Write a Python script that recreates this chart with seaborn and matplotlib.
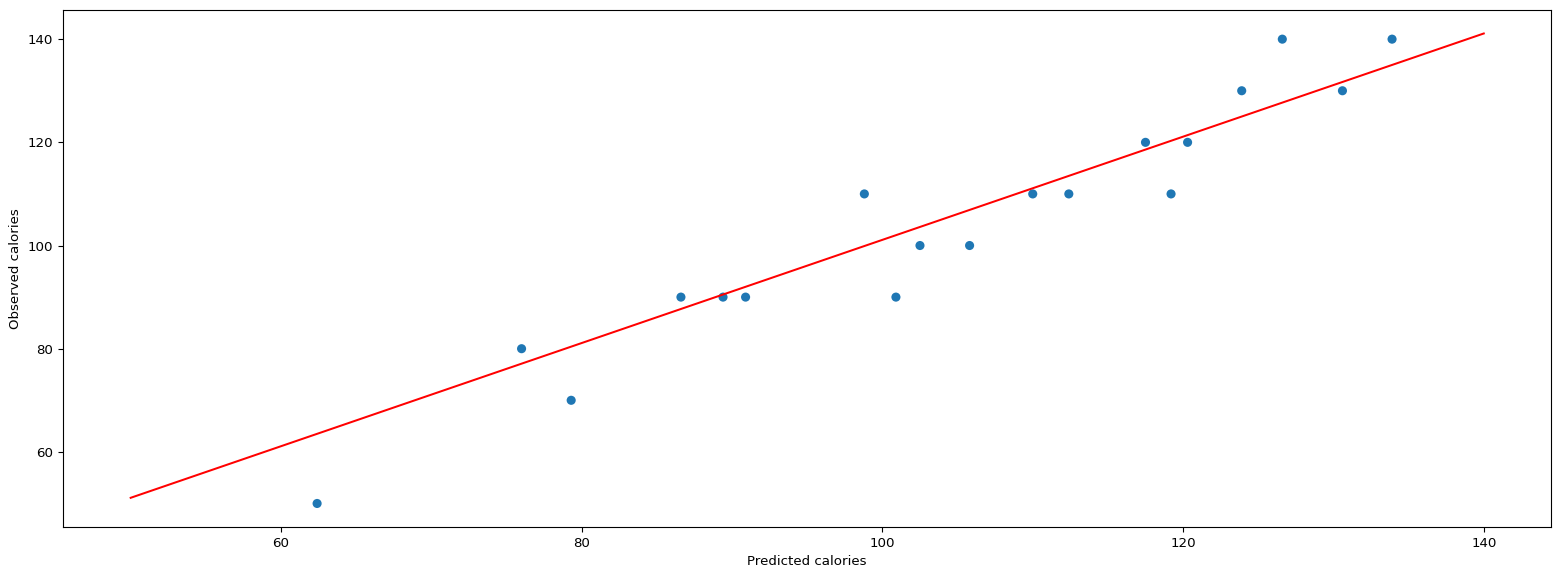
import numpy as np
import pandas as pd
import matplotlib
matplotlib.use("Agg")
import matplotlib.pyplot as plt
import seaborn as sns

# predicted vs observed calories
predicted = [62.4, 76.0, 79.3, 86.6, 89.4, 90.9, 98.8, 100.9, 102.5, 105.8,
             110.0, 112.4, 117.5, 119.2, 120.3, 123.9, 126.6, 130.6, 133.9]
observed = [50, 80, 70, 90, 90, 90, 110, 90, 100, 100,
            110, 110, 120, 110, 120, 130, 140, 130, 140]

# reference line endpoints
line_x = [50, 140]
line_y = [51.1, 141.1]

df = pd.DataFrame({'predicted': predicted, 'observed': observed})

plt.rcParams['font.size'] = 9.6

fig, ax = plt.subplots(figsize=(15.6, 5.77), dpi=100)
sns.scatterplot(data=df, x='predicted', y='observed', ax=ax,
                color='#1f77b4', s=43, edgecolor='none')
sns.lineplot(x=line_x, y=line_y, ax=ax, color='red', linewidth=1.45)
ax.set_xlabel('Predicted calories')
ax.set_ylabel('Observed calories')
fig.subplots_adjust(left=0.0404, right=0.9945, top=0.9827, bottom=0.0867)
plt.savefig('out.png')
